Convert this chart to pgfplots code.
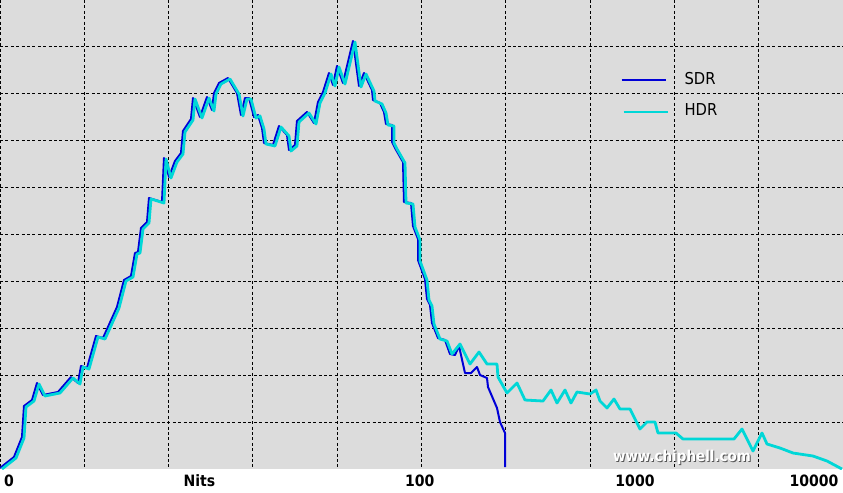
\documentclass[border=0pt]{standalone}
\usepackage{fontspec}
\setmainfont{DejaVu Sans}
\newfontfamily\condfont{DejaVu Sans Condensed}
\usepackage{pgfplots}
\pgfplotsset{compat=1.18}

\definecolor{bgray}{RGB}{220,220,220}
\definecolor{sdrblue}{RGB}{0,0,215}
\definecolor{hdrcyan}{RGB}{0,215,215}

\begin{document}
\begin{tikzpicture}
\begin{axis}[
    name=ax,
    at={(0,0)}, anchor=south west,
    width=421.5pt, height=234.5pt, scale only axis,
    xmin=0, xmax=843, ymin=0, ymax=469, y dir=reverse,
    axis background/.style={fill=bgray},
    axis line style={draw=none},
    major tick length=0pt,
    xtick={0,84.3,168.6,252.9,337.2,421.5,505.8,590.1,674.4,758.7},
    ytick={46.9,93.8,140.7,187.6,234.5,281.4,328.3,375.2,422.1},
    xticklabels={}, yticklabels={},
    grid=major,
    major grid style={black, line width=0.5pt, dash pattern=on 1.5pt off 1.2pt},
    extra x ticks={9,199.5,419.7,635,814},
    extra x tick labels={0,Nits,100,1000,10000},
    extra x tick style={grid=none,
        xticklabel style={font=\condfont\bfseries\fontsize{7.8}{8}\selectfont,
            anchor=center, yshift=-6pt, inner sep=0pt}},
    legend style={draw=none, fill=none, at={(axis cs:620,68)}, anchor=north west,
        font=\condfont\fontsize{8.2}{9}\selectfont, row sep=4pt, inner sep=0pt,
        /tikz/every odd column/.append style={column sep=6pt}},
    legend cell align=left,
    legend image code/.code={\draw[#1, line width=1.1pt, xshift=0pt, yshift=0pt] (0pt,0pt) -- (22pt,0pt);},
]

% SDR
\addplot[sdrblue, line width=1pt, line join=round] coordinates {
(0,468)(14,457)(22,437)(24,406)(32,400)(37,383)(43,395)(58,392)(71,377)(78,383)
(81,366)(87,368)(96,336)(103,338)(117,307)(124,280)(131,276)(135,253)(138,252)
(141,228)(147,222)(149,198)(162,202)(164,158)(169,177)(175,161)(181,153)(183,131)
(191,119)(193,98)(200,117)(207,97)(212,110)(214,93)(219,83)(228,78)(237,93)
(241,115)(245,98)(249,98)(254,117)(258,115)(262,128)(264,143)(273,145)(279,126)
(287,135)(289,150)(295,145)(297,121)(307,112)(314,123)(318,102)(323,92)(329,73)
(333,85)(337,66)(343,83)(353,41)(359,86)(364,73)(372,90)(373,100)(380,103)
(384,112)(386,124)(392,125)(392,142)(395,148)(403,162)(404,202)(411,203)(413,226)
(418,239)(418,260)(425,279)(427,299)(430,305)(432,323)(438,338)(445,340)(450,354)
(455,355)(459,346)(465,373)(471,373)(477,367)(480,375)(487,378)(488,387)(497,408)
(500,422)(505,433)(505,467)
};
\addlegendentry{SDR}

% HDR
\addplot[hdrcyan, line width=1.4pt, line join=round, xshift=1pt, yshift=-0.5pt] coordinates {
(0,468)(14,457)(22,437)(24,406)(32,400)(37,383)(43,395)(58,392)(71,377)(78,383)
(81,366)(87,368)(96,336)(103,338)(117,307)(124,280)(131,276)(135,253)(138,252)
(141,228)(147,222)(149,198)(162,202)(164,158)(169,177)(175,161)(181,153)(183,131)
(191,119)(193,98)(200,117)(207,97)(212,110)(214,93)(219,83)(228,78)(237,93)
(241,115)(245,98)(249,98)(254,117)(258,115)(262,128)(264,143)(273,145)(279,126)
(287,135)(289,150)(295,145)(297,121)(307,112)(314,123)(318,102)(323,92)(329,73)
(333,85)(337,66)(343,83)(353,41)(359,86)(364,73)(372,90)(373,100)(380,103)
(384,112)(386,124)(392,125)(392,142)(395,148)(403,162)(404,202)(411,203)(413,226)
(418,239)(418,260)(425,279)(427,299)(430,305)(432,323)(438,338)
(445,340)(450,353)(458,343)(468,363)(477,351)(485,363)(495,363)(496,376)(505,392)
(515,382)(523,399)(541,400)(549,389)(555,402)(563,389)(569,402)(575,391)(588,393)
(594,389)(598,400)(605,407)(612,398)(618,408)(628,408)(638,428)(645,421)(653,421)
(656,432)(674,432)(681,438)(732,438)(740,428)(751,450)(760,432)(765,443)(778,447)
(791,452)(811,455)(825,460)(840,468)
};
\addlegendentry{HDR}

\node[font=\condfont\bfseries\fontsize{7.5}{8}\selectfont, text=black, opacity=0.6]
    at (axis cs:683,458) {www.chiphell.com};
\node[font=\condfont\bfseries\fontsize{7.5}{8}\selectfont, text=white]
    at (axis cs:682,457) {www.chiphell.com};
\end{axis}
\pgfresetboundingbox
\path[use as bounding box] (ax.south west) ++(0,-11.5pt) rectangle (ax.north east);
\end{tikzpicture}
\end{document}
